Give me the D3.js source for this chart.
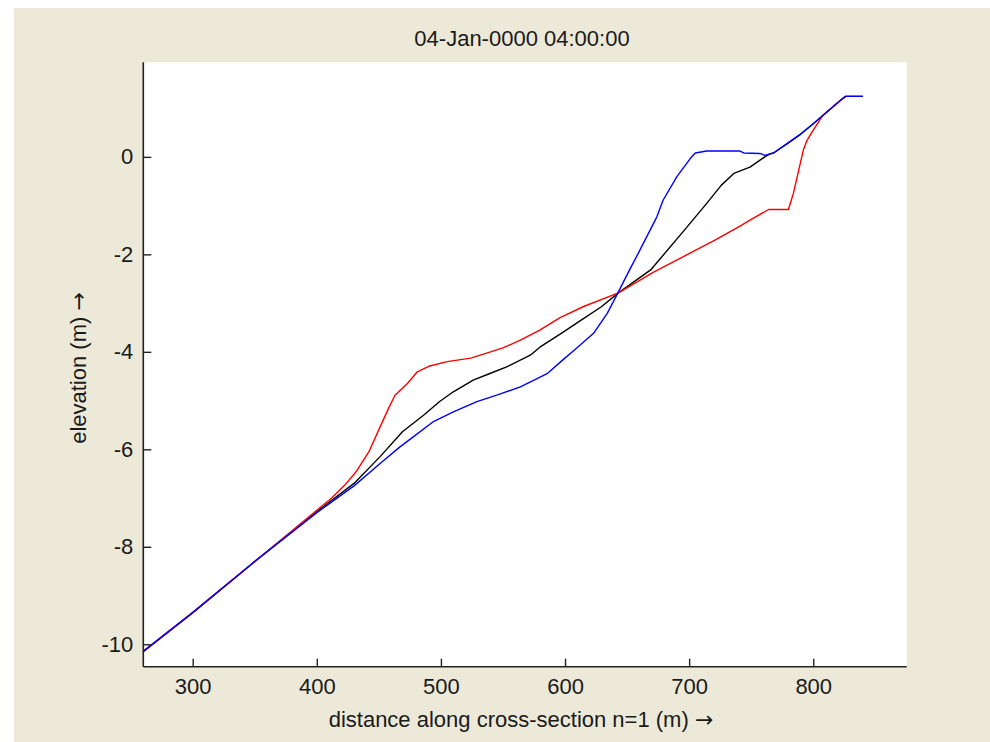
<!DOCTYPE html>
<html>
<head>
<meta charset="utf-8">
<script src="https://cdn.jsdelivr.net/npm/d3@7"></script>
<style>
  html, body { margin: 0; padding: 0; background: #ffffff; }
  svg { display: block; }
  text { font-family: "Liberation Sans", Arial, sans-serif; fill: #1a1a1a; }
  .arrow { font-family: "DejaVu Sans", sans-serif; }
</style>
</head>
<body>
<svg id="chart" width="990" height="742"></svg>
<script>
// Cross-section profiles (distance in m, elevation in m)
const blackX = [260, 300, 350, 400, 430, 451, 469, 486, 499, 510, 526, 540, 553, 572, 580, 597, 613, 629, 643, 669, 695, 714, 726, 736, 749, 761, 765, 768, 779, 789, 800, 811, 822, 826, 840];
const blackY = [-10.15, -9.35, -8.3, -7.28, -6.7, -6.15, -5.64, -5.30, -5.02, -4.82, -4.58, -4.44, -4.31, -4.07, -3.90, -3.62, -3.35, -3.08, -2.79, -2.32, -1.54, -0.96, -0.58, -0.34, -0.21, 0.0, 0.06, 0.08, 0.27, 0.45, 0.68, 0.92, 1.16, 1.24, 1.24];

const redX = [260, 300, 350, 400, 412, 422, 432, 442, 451, 458, 463, 473, 481, 491, 505, 524, 540, 550, 564, 580, 596, 615, 643, 671, 695, 720, 741, 749, 764, 780, 784, 792, 795, 800, 808, 811, 822, 826, 840];
const redY = [-10.15, -9.35, -8.3, -7.25, -7.0, -6.75, -6.45, -6.05, -5.54, -5.15, -4.89, -4.65, -4.41, -4.29, -4.20, -4.13, -4.00, -3.92, -3.76, -3.55, -3.30, -3.07, -2.79, -2.37, -2.05, -1.72, -1.42, -1.30, -1.08, -1.08, -0.75, 0.14, 0.34, 0.55, 0.86, 0.92, 1.16, 1.24, 1.24];

const blueX = [260, 300, 350, 400, 430, 451, 467, 478, 494, 510, 529, 545, 564, 586, 598, 609, 623, 634, 643, 652, 660, 674, 679, 690, 701, 705, 714, 741, 744, 757, 761, 768, 779, 789, 800, 811, 822, 826, 840];
const blueY = [-10.15, -9.35, -8.3, -7.3, -6.75, -6.29, -5.95, -5.74, -5.43, -5.23, -5.02, -4.89, -4.72, -4.44, -4.17, -3.93, -3.62, -3.21, -2.77, -2.32, -1.93, -1.23, -0.89, -0.41, -0.03, 0.08, 0.12, 0.12, 0.08, 0.07, 0.03, 0.08, 0.27, 0.45, 0.68, 0.92, 1.16, 1.24, 1.24];

const xTicks = [300, 400, 500, 600, 700, 800];
const yTicks = [-10, -8, -6, -4, -2, 0];

const titleText = "04-Jan-0000 04:00:00";
const xLabel = "distance along cross-section n=1 (m) ";
const yLabel = "elevation (m) ";
const arrowGlyph = "\u2192";

const svg = d3.select("#chart");

// figure background
svg.append("rect").attr("x", 14).attr("y", 8).attr("width", 976).attr("height", 734).attr("fill", "#ECE9D8");

const x = d3.scaleLinear().domain([260.2, 875.3]).range([143.3, 906.7]);
const y = d3.scaleLinear().domain([-10.46, 1.94]).range([666.7, 62.3]);

// axes area
svg.append("rect")
  .attr("x", x.range()[0]).attr("y", y.range()[1])
  .attr("width", x.range()[1] - x.range()[0])
  .attr("height", y.range()[0] - y.range()[1])
  .attr("fill", "#ffffff");

const line = d3.line().x(d => x(d[0])).y(d => y(d[1]));
const series = [
  { xs: blackX, ys: blackY, color: "#000000" },
  { xs: redX, ys: redY, color: "#ff0000" },
  { xs: blueX, ys: blueY, color: "#0000ff" }
];
series.forEach(s => {
  svg.append("path")
    .datum(s.xs.map((v, i) => [v, s.ys[i]]))
    .attr("d", line)
    .attr("fill", "none")
    .attr("stroke", s.color)
    .attr("stroke-width", 1.4)
    .attr("stroke-linejoin", "round");
});

// axes with inward ticks; plain hyphen for negative labels
const plain = d => String(d);
const xAxis = d3.axisBottom(x).tickValues(xTicks).tickSize(-8).tickPadding(12).tickFormat(plain);
const yAxis = d3.axisLeft(y).tickValues(yTicks).tickSize(-8).tickPadding(10).tickFormat(plain);

const gx = svg.append("g").attr("transform", `translate(0,${y.range()[0]})`).call(xAxis);
const gy = svg.append("g").attr("transform", `translate(${x.range()[0]},0)`).call(yAxis);

[gx, gy].forEach(g => {
  g.select(".domain").attr("stroke", "#222").attr("stroke-width", 1.6);
  g.selectAll(".tick line").attr("stroke", "#222").attr("stroke-width", 1.4);
  g.selectAll(".tick text").attr("fill", "#1a1a1a").style("font-size", "22px")
    .style("font-family", "'Liberation Sans', Arial, sans-serif");
});
gx.select(".domain").attr("d", `M${x.range()[0]},0H${x.range()[1]}`);
gy.select(".domain").attr("d", `M0,${y.range()[0]}V${y.range()[1]}`);

// title and axis labels
svg.append("text").attr("x", 522).attr("y", 46).attr("text-anchor", "middle")
  .style("font-size", "22px").text(titleText);

const xl = svg.append("text").attr("x", 521).attr("y", 727).attr("text-anchor", "middle")
  .style("font-size", "22px");
xl.append("tspan").text(xLabel);
xl.append("tspan").attr("class", "arrow").text(arrowGlyph);

const yl = svg.append("text").attr("transform", "translate(86,368) rotate(-90)").attr("text-anchor", "middle")
  .style("font-size", "22px");
yl.append("tspan").text(yLabel);
yl.append("tspan").attr("class", "arrow").text(arrowGlyph);
</script>
</body>
</html>
